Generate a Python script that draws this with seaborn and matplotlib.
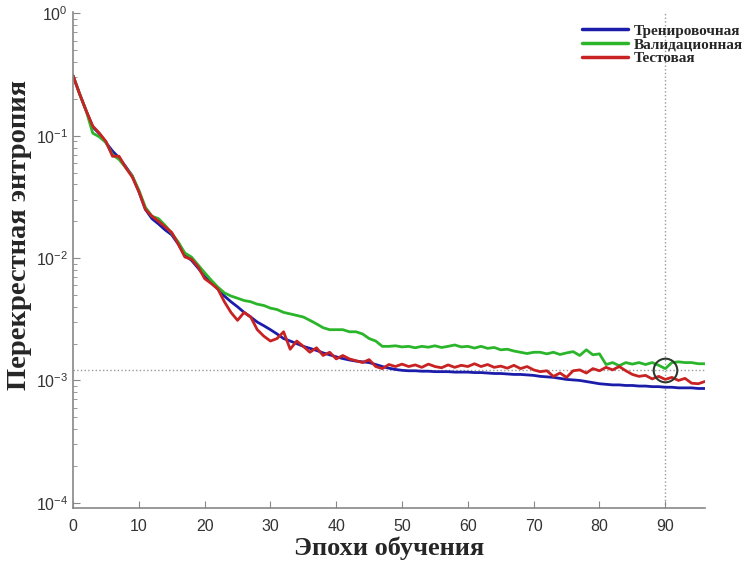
import numpy as np
import pandas as pd
import seaborn as sns
from matplotlib import pyplot as plt
from matplotlib.ticker import LogLocator, NullFormatter

epochs = list(range(97))

train_loss = [
    0.31, 0.22, 0.16, 0.118, 0.104, 0.088, 0.075, 0.066, 0.056, 0.047,
    0.035, 0.025, 0.021, 0.019, 0.017, 0.0155, 0.013, 0.0105, 0.0096, 0.0083,
    0.0071, 0.0063, 0.0056, 0.0049, 0.0044, 0.0040, 0.0036, 0.0033, 0.0030, 0.0028,
    0.0026, 0.0024, 0.0022, 0.0021, 0.0020, 0.0019, 0.00183, 0.00176, 0.00168, 0.00162,
    0.00156, 0.00151, 0.00147, 0.00144, 0.00142, 0.0014, 0.00135, 0.0013, 0.00126, 0.00123,
    0.00121, 0.0012, 0.0012, 0.00119, 0.00119, 0.00118, 0.00118, 0.00118, 0.00117, 0.00117,
    0.00117, 0.00116, 0.00116, 0.00115, 0.00114, 0.00114, 0.00113, 0.00112, 0.00112, 0.00111,
    0.0011, 0.00108, 0.00107, 0.00106, 0.00104, 0.00102, 0.00101, 0.001, 0.00098, 0.00096,
    0.00094, 0.00093, 0.00092, 0.00092, 0.00091, 0.00091, 0.0009, 0.0009, 0.00089, 0.00089,
    0.00088, 0.00088, 0.00087, 0.00087, 0.00087, 0.00086, 0.00086,
]

valid_loss = [
    0.31, 0.22, 0.16, 0.105, 0.098, 0.088, 0.07, 0.064, 0.055, 0.047,
    0.036, 0.026, 0.022, 0.021, 0.0185, 0.016, 0.0135, 0.011, 0.0102, 0.0088,
    0.0076, 0.0066, 0.0058, 0.0052, 0.0049, 0.0047, 0.0045, 0.0044, 0.0042, 0.0041,
    0.0039, 0.0038, 0.0036, 0.0035, 0.0034, 0.0033, 0.0031, 0.0029, 0.0027, 0.0026,
    0.0026, 0.0026, 0.0025, 0.0025, 0.0024, 0.0022, 0.0021, 0.0019, 0.0019, 0.00192,
    0.00188, 0.0019, 0.00185, 0.0019, 0.00187, 0.00192, 0.00186, 0.0019, 0.00195, 0.00188,
    0.0019, 0.00184, 0.0019, 0.00183, 0.00186, 0.00178, 0.0018, 0.00174, 0.0017, 0.00166,
    0.0017, 0.0017, 0.00165, 0.0017, 0.00163, 0.00168, 0.00172, 0.0016, 0.00178, 0.00162,
    0.00165, 0.00135, 0.0014, 0.00132, 0.0014, 0.00136, 0.0014, 0.00135, 0.0014, 0.00133,
    0.00125, 0.0014, 0.00142, 0.0014, 0.0014, 0.00137, 0.00137,
]

test_loss = [
    0.31, 0.22, 0.16, 0.12, 0.105, 0.09, 0.068, 0.068, 0.055, 0.046,
    0.035, 0.025, 0.022, 0.020, 0.018, 0.0162, 0.013, 0.0102, 0.0098, 0.0085,
    0.0068, 0.0062, 0.0056, 0.0044, 0.0036, 0.0031, 0.0036, 0.0033, 0.0026, 0.0023,
    0.0021, 0.0022, 0.0025, 0.0018, 0.0021, 0.0019, 0.0017, 0.00185, 0.0016, 0.0017,
    0.0015, 0.0016, 0.0015, 0.00145, 0.0014, 0.00148, 0.0013, 0.00125, 0.00135, 0.0013,
    0.00136, 0.0013, 0.00134, 0.00128, 0.00136, 0.0013, 0.00127, 0.00134, 0.00128, 0.00133,
    0.0013, 0.00137, 0.0013, 0.00135, 0.00128, 0.00131, 0.00126, 0.00133, 0.00125, 0.0013,
    0.00122, 0.00118, 0.0012, 0.00108, 0.00115, 0.00106, 0.0012, 0.00122, 0.00115, 0.00125,
    0.0012, 0.00128, 0.00122, 0.0013, 0.0012, 0.00112, 0.00108, 0.0011, 0.00103, 0.00108,
    0.00102, 0.00106, 0.001, 0.00104, 0.00095, 0.00094, 0.00098,
]

series_names = ['Тренировочная', 'Валидационная', 'Тестовая']
best_epoch = 90
best_value = 0.00122

df = pd.DataFrame({
    'epoch': epochs * 3,
    'loss': train_loss + valid_loss + test_loss,
    'set': np.repeat(series_names, len(epochs)),
})

sns.set_style('ticks')
plt.rcParams['font.family'] = ['Liberation Sans', 'DejaVu Sans']

fig = plt.figure(figsize=(7.45, 5.63), dpi=100)
ax = fig.add_axes([0.098, 0.098, 0.848, 0.881])

palette = {'Тренировочная': '#1c1caa', 'Валидационная': '#2bb52b', 'Тестовая': '#c82222'}
sns.lineplot(ax=ax, data=df, x='epoch', y='loss', hue='set', palette=palette, linewidth=2.0, legend=False)

ax.axhline(best_value, color='#999999', linestyle=':', linewidth=1.0, zorder=0)
ax.axvline(best_epoch, color='#999999', linestyle=':', linewidth=1.0, zorder=0)
ax.plot([best_epoch], [best_value], marker='o', markersize=17, markerfacecolor='none',
        markeredgecolor='#2f3a2f', markeredgewidth=1.5)

ax.set_yscale('log')
ax.set_xlim(0, 96)
ax.set_ylim(9.1e-5, 1.03)
ax.set_xticks(range(0, 91, 10))
ax.yaxis.set_major_locator(LogLocator(base=10, numticks=10))
ax.yaxis.set_minor_locator(LogLocator(base=10, subs=np.arange(2, 10), numticks=20))
ax.yaxis.set_minor_formatter(NullFormatter())
ax.tick_params(direction='in', colors='#888888', labelcolor='#333333', labelsize=11.5, length=5)
ax.tick_params(axis='x', pad=8)
ax.tick_params(which='minor', direction='in', colors='#888888', length=3)

sns.despine(ax=ax)
for side in ['left', 'bottom']:
    ax.spines[side].set_color('#888888')
    ax.spines[side].set_linewidth(1.2)

ax.set_xlabel('Эпохи обучения', family='Liberation Serif', fontweight='bold', fontsize=19, labelpad=2)
ax.set_ylabel('Перекрестная энтропия', family='Liberation Serif', fontweight='bold', fontsize=20.5)
ax.yaxis.set_label_coords(-0.065, 0.55)

handles = [plt.Line2D([], [], color=palette[n], linewidth=2.5) for n in series_names]
fig.legend(handles, series_names, loc='upper left', bbox_to_anchor=(582 / 745, 1 - 24 / 563), frameon=False,
           prop={'family': 'Liberation Serif', 'weight': 'bold', 'size': 11},
           handlelength=3.0, handletextpad=0.4, labelspacing=0.0, borderpad=0, borderaxespad=0)

plt.savefig('out.png', dpi=100)
